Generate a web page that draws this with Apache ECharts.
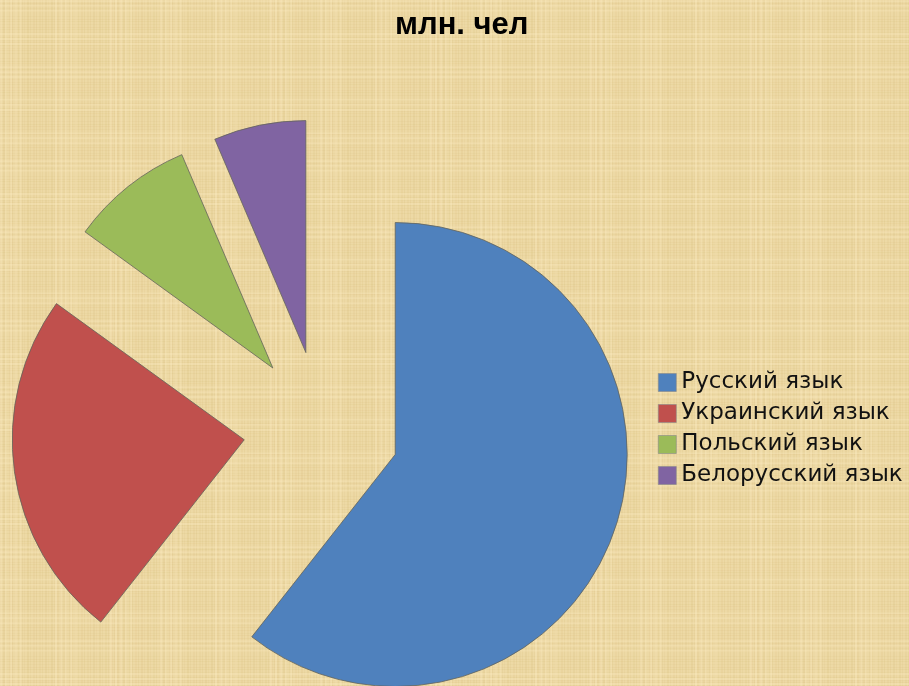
<!DOCTYPE html>
<html>
<head>
<meta charset="utf-8">
<script src="https://cdn.jsdelivr.net/npm/echarts@6/dist/echarts.min.js"></script>
<style>
  html, body { margin: 0; padding: 0; background: #ecd8a3; }
  #chart { width: 909px; height: 686px; }
</style>
</head>
<body>
<div id="chart"></div>
<script>
const categories = ['Русский язык', 'Украинский язык', 'Польский язык', 'Белорусский язык']
const values = [55.7, 22.4, 7.9, 5.9]
const colors = ['#4f81bd', '#c0504d', '#9bbb59', '#8064a2']

// papyrus-like background, drawn once onto a small tile
function makePaper() {
  const c = document.createElement('canvas')
  c.width = 160
  c.height = 160
  const g = c.getContext('2d')
  g.fillStyle = '#edd9a5'
  g.fillRect(0, 0, 160, 160)
  for (let i = 0; i < 160; i += 3) {
    const a = 0.05 + 0.05 * Math.abs(Math.sin(i * 1.7))
    g.fillStyle = 'rgba(196,160,80,' + a.toFixed(3) + ')'
    g.fillRect(i, 0, 1 + (i % 2), 160)
    g.fillStyle = 'rgba(196,160,80,' + (a * 0.8).toFixed(3) + ')'
    g.fillRect(0, (i * 7) % 160, 160, 1)
  }
  for (let i = 0; i < 160; i += 11) {
    g.fillStyle = 'rgba(255,240,200,0.25)'
    g.fillRect(0, (i * 3) % 160, 160, 2)
    g.fillRect((i * 5) % 160, 0, 2, 160)
  }
  return c
}

const chart = echarts.init(document.getElementById('chart'), null, { renderer: 'canvas' })

chart.setOption({
  backgroundColor: { image: makePaper(), repeat: 'repeat' },
  animation: false,
  color: colors,
  title: {
    text: 'млн. чел',
    left: 390,
    top: 5,
    textStyle: {
      fontFamily: 'Liberation Sans, Arial, sans-serif',
      fontSize: 31,
      fontWeight: 'bold',
      color: '#000'
    }
  },
  legend: {
    orient: 'vertical',
    left: 653,
    top: 366,
    itemWidth: 18,
    itemHeight: 18,
    itemGap: 8,
    icon: 'rect',
    itemStyle: { borderColor: '#8a8a8a', borderWidth: 0.6 },
    textStyle: {
      fontFamily: 'DejaVu Sans, sans-serif',
      fontSize: 23,
      color: '#111'
    },
    data: categories
  },
  series: [
    {
      type: 'pie',
      center: [321.5, 429],
      radius: 232,
      startAngle: 90,
      clockwise: true,
      selectedMode: 'multiple',
      selectedOffset: 78,
      label: { show: false },
      labelLine: { show: false },
      emphasis: { scale: false },
      itemStyle: { borderColor: 'rgba(100,100,90,0.8)', borderWidth: 1 },
      data: categories.map((name, i) => ({ name, value: values[i], selected: true }))
    }
  ]
})
</script>
</body>
</html>
